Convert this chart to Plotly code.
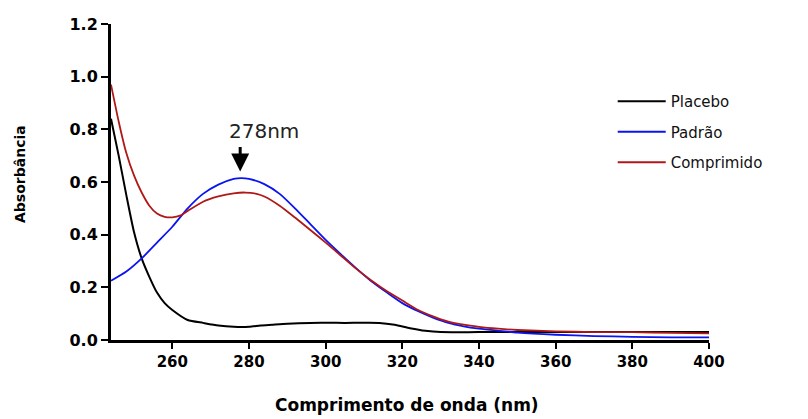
import plotly.graph_objects as go

wl_black = [244, 246, 248, 250, 252, 254, 256, 258, 260, 264, 268, 272, 276, 280, 283, 286, 290, 296, 305, 314, 318, 322, 326, 330, 340, 360, 380, 400]
placebo = [0.84, 0.70, 0.55, 0.41, 0.31, 0.24, 0.18, 0.14, 0.114, 0.076, 0.065, 0.055, 0.05, 0.05, 0.055, 0.058, 0.062, 0.065, 0.065, 0.065, 0.058, 0.045, 0.035, 0.03, 0.03, 0.03, 0.03, 0.03]

wl_blue = [244, 248, 252, 256, 260, 264, 268, 272, 276, 278, 280, 284, 288, 292, 296, 300, 304, 308, 312, 316, 320, 324, 328, 332, 336, 340, 345, 350, 360, 370, 380, 390, 400]
padrao = [0.225, 0.26, 0.31, 0.37, 0.43, 0.50, 0.555, 0.59, 0.612, 0.615, 0.612, 0.592, 0.555, 0.50, 0.44, 0.38, 0.325, 0.272, 0.222, 0.18, 0.14, 0.11, 0.085, 0.065, 0.052, 0.043, 0.035, 0.028, 0.02, 0.015, 0.012, 0.01, 0.01]

wl_red = [244, 246, 248, 250, 252, 254, 256, 258, 260, 262, 264, 268, 272, 276, 279, 282, 284, 288, 292, 296, 300, 304, 308, 312, 316, 320, 324, 328, 332, 336, 340, 345, 350, 360, 370, 380, 390, 400]
comprimido = [0.97, 0.83, 0.71, 0.625, 0.56, 0.51, 0.48, 0.468, 0.466, 0.472, 0.49, 0.525, 0.545, 0.557, 0.56, 0.555, 0.545, 0.51, 0.465, 0.418, 0.37, 0.32, 0.27, 0.225, 0.185, 0.15, 0.115, 0.09, 0.07, 0.058, 0.05, 0.043, 0.038, 0.033, 0.03, 0.03, 0.027, 0.025]

x_ticks = [260, 280, 300, 320, 340, 360, 380, 400]
y_ticks = [0.0, 0.2, 0.4, 0.6, 0.8, 1.0, 1.2]

peak_wl = 277.7
peak_abs = 0.615

# page body margin offset (px)
OFF = 8
W, H = 808, 419
l, r, t, b = 103, 107, 16, 87
pw, ph = W - l - r, H - t - b

def px(xp):
    return (xp - OFF - l) / pw

def py(yp):
    return (H - b - (yp - OFF)) / ph

fig = go.Figure()
fig.add_trace(go.Scatter(x=wl_black, y=placebo, mode="lines", name="Placebo", legendgroup="a",
                         line=dict(color="#000000", width=2, shape="spline", smoothing=0.6)))
fig.add_trace(go.Scatter(x=wl_blue, y=padrao, mode="lines", name="Padrão", legendgroup="b",
                         line=dict(color="#0a14f0", width=1.8, shape="spline", smoothing=0.6)))
fig.add_trace(go.Scatter(x=wl_red, y=comprimido, mode="lines", name="Comprimido", legendgroup="c",
                         line=dict(color="#b01818", width=1.8, shape="spline", smoothing=0.6)))

# arrow
fig.add_annotation(x=peak_wl, y=peak_abs + 0.025, xref="x", yref="y", text="", showarrow=True,
                   arrowhead=2, arrowsize=1.2, arrowwidth=3, arrowcolor="#000000",
                   ax=0, ay=-26)
# label
fig.add_annotation(x=px(264), y=py(131), xref="paper", yref="paper", text="278nm",
                   showarrow=False, xanchor="center", yanchor="middle",
                   font=dict(family="DejaVu Sans", size=20, color="#222222"))
fig.add_annotation(x=px(407), y=py(405), xref="paper", yref="paper",
                   text="<b>Comprimento de onda (nm)</b>", showarrow=False,
                   xanchor="center", yanchor="middle",
                   font=dict(family="DejaVu Sans", size=17, color="#000000"))
fig.add_annotation(x=px(20), y=py(174), xref="paper", yref="paper",
                   text="<b>Absorbância</b>", showarrow=False, textangle=-90,
                   xanchor="center", yanchor="middle",
                   font=dict(family="DejaVu Sans", size=14, color="#000000"))

fig.update_layout(
    width=W, height=H,
    margin=dict(l=l, r=r, t=t, b=b),
    paper_bgcolor="white", plot_bgcolor="white",
    font=dict(family="DejaVu Sans", color="#000000"),
    showlegend=True,
    legend=dict(x=0.839, y=0.807, xanchor="left", yanchor="top",
                font=dict(family="DejaVu Sans", size=15, color="#111111"),
                bgcolor="rgba(0,0,0,0)", tracegroupgap=8, itemwidth=48),
    xaxis=dict(range=[244, 400], tickvals=x_ticks, ticks="outside", ticklen=6, tickwidth=2,
               tickcolor="#000000", showline=True, linecolor="#000000", linewidth=3,
               showgrid=False, zeroline=False, automargin=False,
               tickfont=dict(family="DejaVu Sans", size=15, weight="bold")),
    yaxis=dict(range=[0, 1.2], tickvals=y_ticks, tickformat=".1f", ticks="outside", ticklen=7,
               tickwidth=2, tickcolor="#000000", showline=True, linecolor="#000000", linewidth=3,
               showgrid=False, zeroline=False, automargin=False,
               tickfont=dict(family="DejaVu Sans", size=16, weight="bold")),
)

fig.write_html("out.html")
